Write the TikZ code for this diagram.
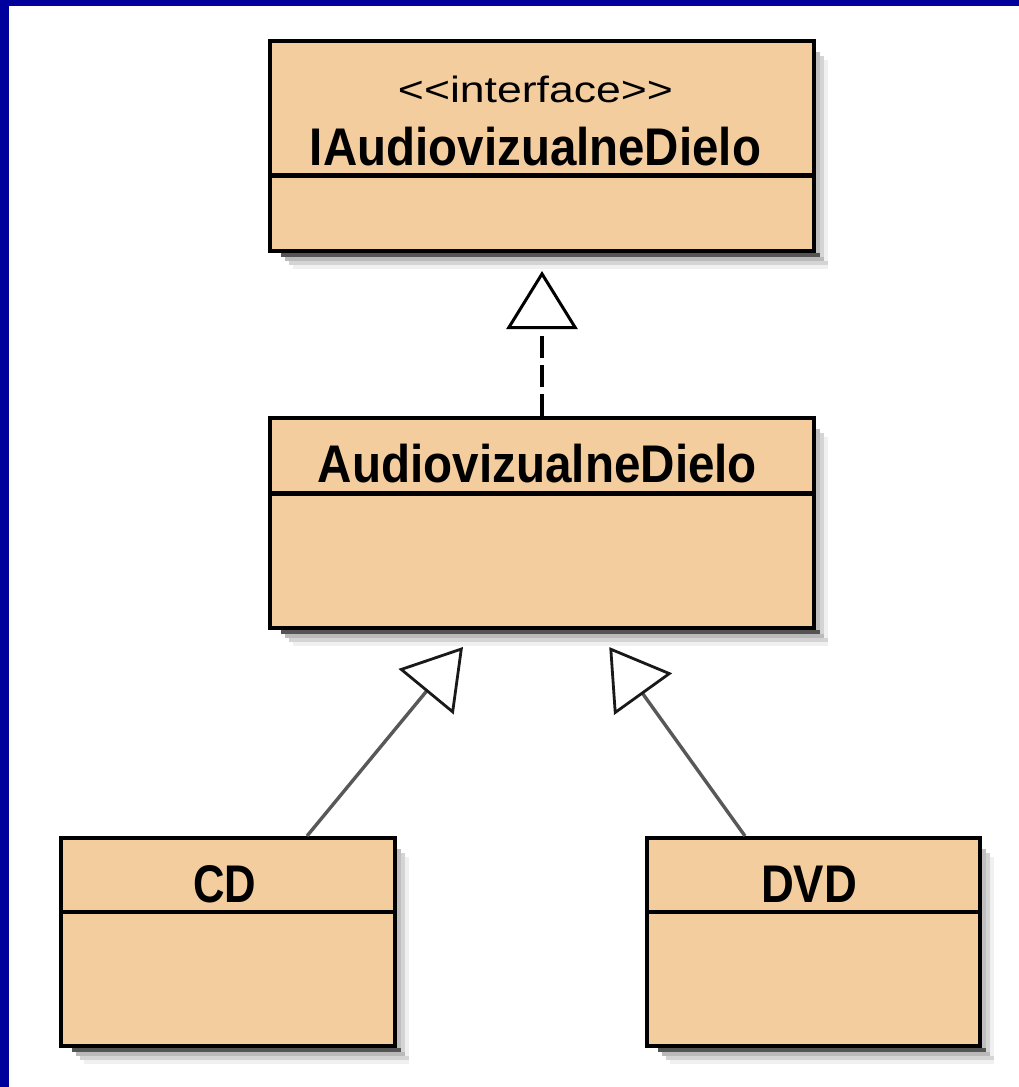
\documentclass[tikz,border=0pt]{standalone}
\usepackage{fontspec}
\setmainfont{Liberation Sans}
\usepackage{graphicx}
\usetikzlibrary{arrows.meta}

\definecolor{classfill}{HTML}{F3CD9E}
\definecolor{frameblue}{HTML}{00009C}
\definecolor{genline}{HTML}{585858}

% text squeezed or stretched to a given width, keeping its height
\newcommand\fitw[3]{\resizebox{#1}{\height}{\fontsize{#2}{#2}\selectfont #3}}

\tikzset{
  classbox/.style={draw=black, fill=classfill, line width=4.4pt, inner sep=0pt},
  sepline/.style={line width=4.4pt, draw=black},
  label/.style={inner sep=0pt, anchor=base, text=black},
  realize/.style={line width=3.6pt, draw=black, dash pattern=on 22pt off 7pt,
    -{Triangle[open, length=58pt, width=71pt, line width=3pt, color=black]}},
  generalize/.style={line width=3.4pt, draw=genline,
    -{Triangle[open, length=58pt, width=71pt, line width=2.8pt, color=black!90]}}
}

\begin{document}
\begin{tikzpicture}[x=1pt,y=-1pt]
  % page and frame
  \path[use as bounding box, fill=white] (0,0) rectangle (1019,1087);
  \fill[frameblue] (0,0) rectangle (9,1087);
  \fill[frameblue] (0,0) rectangle (1019,6);

  % class boxes: name / left / top / right / bottom / compartment line
  \foreach \nm/\bl/\bt/\br/\bb/\bs in {top/268/39/816/253/175.3,
                                         mid/268/416/816/630/493.5,
                                         cd/59/836/397/1048/912,
                                         dvd/645/836/982/1048/912}{
    % stepped drop shadow
    \foreach \k/\rc/\bc in {4/black!6/black!6, 3/black!6/black!17,
                            2/black!17/black!27, 1/black!25/black!67}{
      \fill[\rc] ({\bl+9+4*\k},{\bt+9+4*\k}) rectangle ({\br+min(4*\k,12)},{\bb+4*\k});
      \fill[\bc] ({\bl+9+4*\k},{\bb+4*\k-4}) rectangle ({\br+min(4*\k,12)},{\bb+4*\k});
    }
    \node[classbox, minimum width={\br-\bl-4.4}, minimum height={\bb-\bt-4.4}]
      (\nm) at ({(\bl+\br)/2},{(\bt+\bb)/2}) {};
    \draw[sepline] ({\bl+2},\bs) -- ({\br-2},\bs);
  }

  % class names
  \node[label] (topst) at (535.5,102) {\fitw{275pt}{36.6pt}{<{}<interface>{}>}};
  \node[label] (topnm) at (535.5,165) {\fitw{451pt}{53pt}{\bfseries IAudiovizualneDielo}};
  \node[label] (midnm) at (537.5,482) {\fitw{439pt}{53pt}{\bfseries AudiovizualneDielo}};
  \node[label] (cdnm)  at (224.5,902) {\fitw{63pt}{53pt}{\bfseries CD}};
  \node[label] (dvdnm) at (809,902)   {\fitw{96pt}{53pt}{\bfseries DVD}};

  % realization of the interface
  \draw[realize, shorten >=18pt] (mid.north) -- (top.south);

  % generalizations
  \draw[generalize, shorten >=22pt] ([xshift=79pt]cd.north) -- ([xshift=-65pt]mid.south);
  \draw[generalize, shorten >=21pt] ([xshift=-68.5pt]dvd.north) -- ([xshift=55pt]mid.south);
\end{tikzpicture}
\end{document}
